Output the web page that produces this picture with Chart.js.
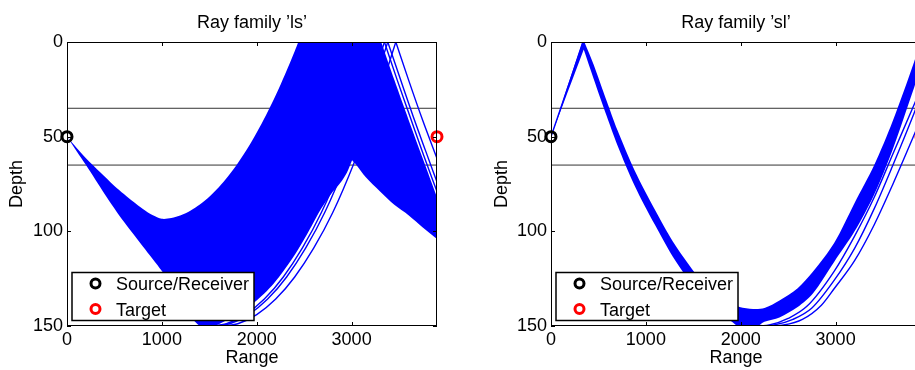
<!DOCTYPE html>
<html>
<head>
<meta charset="utf-8">
<script src="https://cdn.jsdelivr.net/npm/chart.js@4.4.1/dist/chart.umd.min.js"></script>
<style>
  html, body { margin: 0; padding: 0; background: #fff; overflow: hidden; width: 915px; height: 370px; }
  .panel { position: absolute; top: 0; height: 370px; }
  #p1 { left: 0; width: 460px; }
  #p2 { left: 460px; width: 470px; }
</style>
</head>
<body>
<div class="panel" id="p1"><canvas id="ls" width="460" height="370"></canvas></div>
<div class="panel" id="p2"><canvas id="sl" width="470" height="370"></canvas></div>
<script>
// axes
const rangeMax = 3900;
const depthMax = 150;
const rangeTicks = [0, 1000, 2000, 3000];
const depthTicks = [0, 50, 100, 150];
const layerDepths = [35, 65];
const source = [0, 50];
const target = [3900, 50];

// ray family 'ls' : outline of the dense fan (range, depth)
// repeated points keep the corners sharp
const lsFan = [
  [0, -20], [0, -20], [0, 50], [0, 50], [100, 55.8], [200, 61.4], [350, 68.8], [500, 76],
  [600, 80.3], [700, 84.4], [800, 88.2], [900, 91.4], [1000, 93.4], [1100, 93], [1200, 91.5],
  [1300, 89.1], [1400, 85.8], [1500, 81.7], [1600, 76.7], [1700, 70.8], [1800, 64], [1900, 56.4],
  [2000, 47.8], [2100, 38.4], [2200, 28.1], [2300, 16.9], [2400, 4.9], [2438, 0], [2438, 0],
  [3312, 0], [3312, 0], [3450, 20], [3600, 41], [3750, 61.5], [3900, 82], [3900, 82],
  [3900, 104], [3900, 104], [3750, 98], [3600, 91.5], [3450, 86], [3300, 79], [3150, 71.5],
  [3050, 65], [3005, 62.5], [3005, 62.5], [2950, 69], [2880, 74.5], [2780, 80.5], [2680, 88],
  [2580, 97], [2480, 105.9], [2380, 114], [2280, 121.1], [2180, 127.5], [2080, 132.8], [1980, 137.3],
  [1880, 141], [1780, 144.3], [1680, 147], [1580, 149.5], [1480, 151], [1400, 150], [1300, 145],
  [1200, 137.5], [1100, 129], [1000, 121], [800, 108], [600, 95], [400, 80.5], [200, 65],
  [0, 50], [0, 50], [0, -20], [0, -20], [3900, -20], [3900, -20]
];
// outermost 'ls' rays, drawn one by one
const lsRay1Up = [[1620, 150], [1800, 148.8], [2000, 144], [2200, 135.8], [2400, 124.1], [2600, 108.9],
  [2800, 90.2], [3031, 63.2], [3250, 33.5], [3466, 0]];
const lsRay1Down = [[3466, 0], [3600, 20], [3750, 41.5], [3900, 61.5]];
const lsRay2Up = [[1535, 150], [1715, 148.8], [1915, 144], [2115, 135.8], [2315, 124.1], [2515, 108.9],
  [2715, 90.2], [2946, 63.2], [3165, 33.5], [3381, 0]];
const lsRay2Down = [[3381, 0], [3510, 19], [3650, 39.5], [3780, 57.5], [3900, 74]];
const lsRay3Up = [[1500, 150], [1680, 148.8], [1880, 144], [2080, 135.8], [2280, 124.1], [2480, 108.9],
  [2680, 90.2], [2911, 63.2], [3130, 33.5], [3346, 0]];
const lsRay3Down = [[3346, 0], [3480, 20], [3620, 40], [3760, 60], [3900, 79]];

// ray family 'sl' : outline of the bundle
const slFan = [
  [0, -20], [0, -20], [0, 50], [0, 50], [328, 0], [328, 0], [352, 0], [352, 0],
  [450, 12], [586, 31], [700, 46.5], [883, 68], [1094, 88.5], [1286, 105.5], [1444, 117],
  [1600, 127], [1800, 135.5], [1987, 140], [2130, 141], [2250, 140.5], [2408, 136.5],
  [2600, 130], [2758, 121.5], [2986, 106], [3200, 85], [3407, 65], [3600, 42], [3828, 10.4],
  [3870, 3], [3870, 3], [3870, 18], [3870, 18],
  [3828, 24], [3600, 57], [3407, 80.5], [3200, 100], [2986, 116], [2758, 133], [2600, 140],
  [2408, 145.5], [2250, 147.8], [2150, 151], [2000, 151], [1900, 147.5], [1800, 143],
  [1600, 134], [1444, 125], [1286, 113.5], [1094, 96.4], [883, 76], [700, 54.5], [586, 39],
  [450, 19.5], [345, 4], [345, 4], [0, 50], [0, 50], [0, -20], [0, -20], [3900, -20], [3900, -20]
];
const slRayUp = [[0, 50], [340, 0]];
const slRayA = [[1990, 149], [2150, 150], [2300, 149.5], [2500, 146], [2700, 139.5], [2986, 121],
  [3200, 102.5], [3407, 82], [3600, 59.5], [3828, 33], [3870, 28]];
const slRayB = [[2050, 149.5], [2200, 150], [2350, 149.5], [2550, 146.5], [2750, 140.5], [2986, 125.8],
  [3200, 109], [3407, 88], [3600, 65.5], [3828, 37.5], [3870, 32]];
const slRayC = [[2150, 149.5], [2300, 150], [2450, 149.5], [2650, 146.5], [2850, 139], [2986, 130.2],
  [3200, 115.5], [3407, 96.5], [3600, 75.5], [3828, 49], [3870, 44]];

const BLUE = '#0000ff';
const FONT = '"Liberation Sans", Arial, Helvetica, sans-serif';

const pts = a => a.map(([x, y]) => ({ x, y }));

const fanSet = poly => ({
  data: pts(poly), fill: 'shape', backgroundColor: BLUE, borderWidth: 0,
  pointRadius: 0, tension: 0.3, order: 10
});
const raySet = r => ({
  data: pts(r), borderColor: BLUE, borderWidth: 1.4, pointRadius: 0,
  cubicInterpolationMode: 'monotone', fill: false, order: 5
});
const layerSet = d => ({
  data: pts([[0, d], [rangeMax, d]]), borderColor: '#333', borderWidth: 1,
  pointRadius: 0, fill: false, order: 20
});
const markerSet = (label, p, color) => ({
  label, data: pts([p]), showLine: false, pointRadius: 5, pointHoverRadius: 5,
  pointBorderWidth: 3, pointBorderColor: color, pointBackgroundColor: 'rgba(0,0,0,0)',
  clip: false, order: 0
});

// box + inward ticks, matlab style
const framePlugin = {
  id: 'frame',
  afterDatasetsDraw(chart) {
    const { ctx, chartArea: a, scales: { x, y } } = chart;
    ctx.save();
    ctx.strokeStyle = '#000';
    ctx.lineWidth = 1;
    ctx.beginPath();
    rangeTicks.forEach(v => {
      const px = Math.round(x.getPixelForValue(v)) + 0.5;
      ctx.moveTo(px, a.bottom); ctx.lineTo(px, a.bottom - 4);
      ctx.moveTo(px, a.top); ctx.lineTo(px, a.top + 4);
    });
    depthTicks.forEach(v => {
      const py = Math.round(y.getPixelForValue(v)) + 0.5;
      ctx.moveTo(a.left, py); ctx.lineTo(a.left + 4, py);
      ctx.moveTo(a.right, py); ctx.lineTo(a.right - 4, py);
    });
    ctx.stroke();
    ctx.strokeRect(a.left + 0.5, a.top + 0.5, a.right - a.left - 1, a.bottom - a.top - 1);
    ctx.restore();
  }
};

// legend box in the lower left corner of the axes
const boxLegend = {
  id: 'boxLegend',
  afterDraw(chart) {
    const { ctx, chartArea: a } = chart;
    const items = chart.data.datasets.filter(d => d.label);
    const bx = a.left + 5, by = a.bottom - 53.5, bw = 182, bh = 48;
    ctx.save();
    ctx.fillStyle = '#fff';
    ctx.fillRect(bx, by, bw, bh);
    ctx.strokeStyle = '#000';
    ctx.lineWidth = 1.5;
    ctx.strokeRect(bx, by, bw, bh);
    ctx.font = '18px ' + FONT;
    items.forEach((d, i) => {
      const cy = by + 11 + i * 25.5;
      ctx.beginPath();
      ctx.arc(bx + 23.5, cy, 4.5, 0, Math.PI * 2);
      ctx.lineWidth = 3;
      ctx.strokeStyle = d.pointBorderColor;
      ctx.stroke();
      ctx.fillStyle = '#000';
      ctx.fillText(d.label, bx + 44, cy + 6.5);
    });
    ctx.restore();
  }
};

function makeChart(id, title, datasets, yWidth, padRight, yTitlePad) {
  const font = { family: FONT, size: 18, weight: 'normal' };
  return new Chart(document.getElementById(id), {
    type: 'line',
    data: { datasets },
    options: {
      responsive: false,
      animation: false,
      devicePixelRatio: 1,
      events: [],
      layout: { padding: { left: 0, right: padRight, top: 0, bottom: 0 } },
      plugins: {
        legend: { display: false },
        tooltip: { enabled: false },
        title: {
          display: true, text: title, color: '#000', font, fullSize: false,
          padding: { top: 12, bottom: 8.4 }
        }
      },
      scales: {
        x: {
          type: 'linear', min: 0, max: rangeMax,
          afterBuildTicks: s => { s.ticks = rangeTicks.map(v => ({ value: v })); },
          afterFit: s => { s.height = 44; },
          grid: { display: false, drawTicks: false },
          border: { display: false },
          ticks: { color: '#000', font, padding: 3, maxRotation: 0, autoSkip: false, callback: v => String(v) },
          title: { display: true, text: 'Range', color: '#000', font, padding: { top: 0, bottom: 1 } }
        },
        y: {
          type: 'linear', reverse: true, min: 0, max: depthMax,
          afterBuildTicks: s => { s.ticks = depthTicks.map(v => ({ value: v })); },
          afterFit: s => { s.width = yWidth; },
          grid: { display: false, drawTicks: false },
          border: { display: false },
          ticks: { color: '#000', font, padding: 4, autoSkip: false, callback: v => String(v) },
          title: { display: true, text: 'Depth', color: '#000', font, padding: { top: yTitlePad, bottom: 0 } }
        }
      }
    },
    plugins: [framePlugin, boxLegend]
  });
}

makeChart('ls', 'Ray family \u2019ls\u2019', [
  ...layerDepths.map(layerSet),
  fanSet(lsFan),
  raySet(lsRay1Up), raySet(lsRay1Down),
  raySet(lsRay2Up), raySet(lsRay2Down),
  raySet(lsRay3Up), raySet(lsRay3Down),
  markerSet('Source/Receiver', source, '#000'),
  markerSet('Target', target, '#ff0000')
], 67, 23, 6);

makeChart('sl', 'Ray family \u2019sl\u2019', [
  ...layerDepths.map(layerSet),
  fanSet(slFan),
  raySet(slRayUp), raySet(slRayA), raySet(slRayB), raySet(slRayC),
  markerSet('Source/Receiver', source, '#000'),
  markerSet('Target', target, '#ff0000')
], 91, 9, 31);
</script>
</body>
</html>
